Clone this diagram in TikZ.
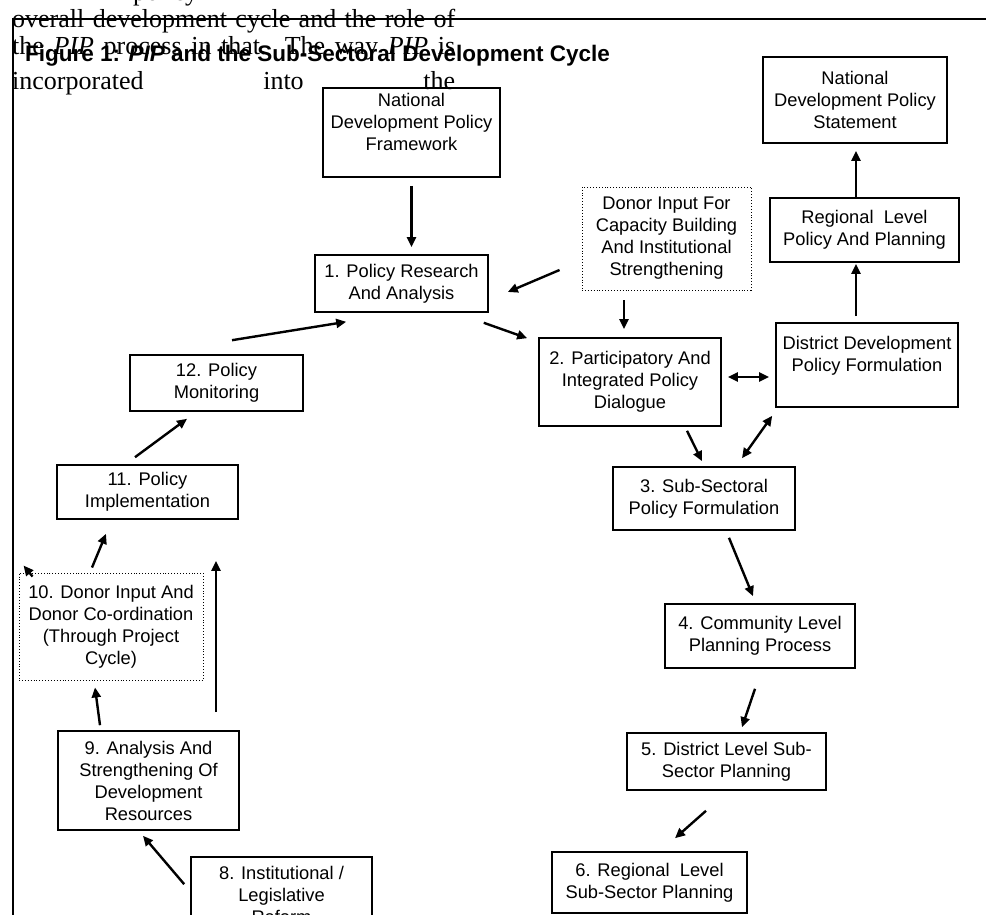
\documentclass[tikz,border=0pt]{standalone}
\usepackage{fontspec}
\setmainfont{Liberation Sans}
\newfontfamily\pagefont{Liberation Serif}
\usetikzlibrary{shapes.geometric, arrows, arrows.meta, calc}

\tikzstyle{stage} = [rectangle,
draw=black,
line width=1.6pt,
inner sep=0pt,
align=center,
text centered,
font=\fontsize{18.3}{22}\selectfont]
\tikzstyle{donor} = [stage,
line width=0.9pt,
dotted]
\tikzstyle{arrow} = [line width=2.4pt,->,>={Triangle[length=10pt,width=9pt]}]
\tikzstyle{twoway} = [arrow,<->]
\tikzstyle{bodytext} = [anchor=base west,
inner sep=0pt,
font=\pagefont\fontsize{26}{26}\selectfont]

\begin{document}
\begin{tikzpicture}[x=1pt, y=-1pt]
\clip (0,0) rectangle (986,915);

% Page frame and running text
\draw [line width=2pt] (12.5,935) -- (12.5,19) -- (1000,19);

\node (policyword) [bodytext] at (133,1) {policy};
\node (overall) [bodytext] at (12,28) {\makebox[443pt][s]{overall development cycle and the role of}};
\node (pipline) [bodytext] at (12,55) {\makebox[443pt][s]{the \textit{PIP} process in that. The way \textit{PIP} is}};
\node (intoline) [bodytext] at (12,90) {\makebox[443pt][s]{incorporated into the}};

\node (caption) [anchor=base west, inner sep=0pt, font=\bfseries\fontsize{22.5}{24}\selectfont] at (25,62) {Figure 1: \textit{PIP} and the Sub-Sectoral Development Cycle};

% Nodes
\node (ndpf) [stage, minimum width=177pt, minimum height=89pt] at (411.5,132.5) {National\\Development Policy\\Framework\\\mbox{}};

\node (research) [stage, minimum width=173pt, minimum height=57pt] at (401.5,283.5) {1. Policy Research\\And Analysis};

\node (donorcb) [donor, minimum width=169pt, minimum height=103pt] at (666.5,238.5) {Donor Input For\\Capacity Building\\And Institutional\\Strengthening};

\node (dialogue) [stage, minimum width=182pt, minimum height=88pt] at (630,382) {2. Participatory And\\Integrated Policy\\Dialogue};

\node (ddpf) [stage, minimum width=182pt, minimum height=84pt] at (867,365) {District Development\\Policy Formulation\\\mbox{}};

\node (rlpp) [stage, minimum width=189pt, minimum height=64pt] at (864.5,230) {Regional\ \ Level\\Policy And Planning};

\node (ndps) [stage, minimum width=184pt, minimum height=86pt] at (855,100) {National\\Development Policy\\Statement};

\node (subsector) [stage, minimum width=182pt, minimum height=63pt] at (704,498.5) {3. Sub-Sectoral\\Policy Formulation};

\node (community) [stage, minimum width=190pt, minimum height=64pt] at (760,636) {4. Community Level\\Planning Process};

\node (district) [stage, minimum width=199pt, minimum height=57pt] at (726.5,761.5) {5. District Level Sub-\\Sector Planning};

\node (regional) [stage, minimum width=195pt, minimum height=61pt] at (649.5,882.5) {6. Regional\ \ Level\\Sub-Sector Planning};

\node (reform) [stage, minimum width=181pt, minimum height=76pt] at (281.5,895) {8. Institutional /\\Legislative\\Reform};

\node (resources) [stage, minimum width=181pt, minimum height=99pt] at (148.5,780.5) {9. Analysis And\\Strengthening Of\\Development\\Resources};

\node (donorco) [donor, minimum width=184pt, minimum height=107pt] at (111,626.5) {10. Donor Input And\\Donor Co-ordination\\(Through Project\\Cycle)};

\node (implement) [stage, minimum width=181pt, minimum height=54pt] at (147.5,492) {11. Policy\\Implementation};

\node (monitor) [stage, minimum width=173pt, minimum height=56pt] at (216.5,383) {12. Policy\\Monitoring};

% Connections
\draw [arrow] ($(ndpf.south)+(0,8)$) -- ($(research.north)+(10,-7)$);
\draw [arrow] ($(donorcb.west)+(-22,31.5)$) -- ($(research.east)+(19,8.5)$);
\draw [arrow] ($(donorcb.south)+(-42.5,10)$) -- ($(dialogue.north)+(-6,-8)$);
\draw [arrow] ($(research.south east)+(-5,10)$) -- ($(dialogue.north west)+(-11,1)$);

\draw [twoway] ($(dialogue.east)+(6,-5)$) -- ($(ddpf.west)+(-6,12)$);
\draw [arrow] ($(ddpf.north)+(-11,-6)$) -- ($(rlpp.south)+(-8.5,1)$);
\draw [arrow] ($(rlpp.north)+(-8.5,0)$) -- ($(ndps.south)+(1,7)$);

\draw [arrow] ($(dialogue.south)+(57,4)$) -- ($(subsector.north)+(-2,-5)$);
\draw [twoway] ($(subsector.north)+(38,-8)$) -- ($(ddpf.south west)+(-3,8)$);
\draw [arrow] ($(subsector.south)+(25,7)$) -- ($(community.north)+(-7,-7)$);
\draw [arrow] ($(community.south)+(-5,20)$) -- ($(district.north)+(15.5,-5)$);
\draw [arrow] ($(district.south)+(-20.5,20)$) -- ($(regional.north)+(25.5,-13)$);

\draw [arrow] ($(reform.north west)+(-6,28)$) -- ($(resources.south)+(-5.5,5)$);
\draw [arrow] ($(resources.north)+(-48.5,-5)$) -- ($(donorco.south)+(-16,7)$);
\draw [arrow] ($(resources.north)+(67.5,-18)$) -- ($(implement.south)+(68.5,41)$);
\draw [arrow] ($(donorco.north west)+(14,4)$) -- ($(donorco.north west)+(5,-7)$);
\draw [arrow] ($(donorco.north)+(-19,-5)$) -- ($(implement.south)+(-41.5,14)$);
\draw [arrow] ($(implement.north)+(-12.5,-7)$) -- ($(monitor.south)+(-29.5,7)$);
\draw [arrow] ($(monitor.north)+(15.5,-14)$) -- ($(research.south west)+(32,9)$);

\end{tikzpicture}
\end{document}
